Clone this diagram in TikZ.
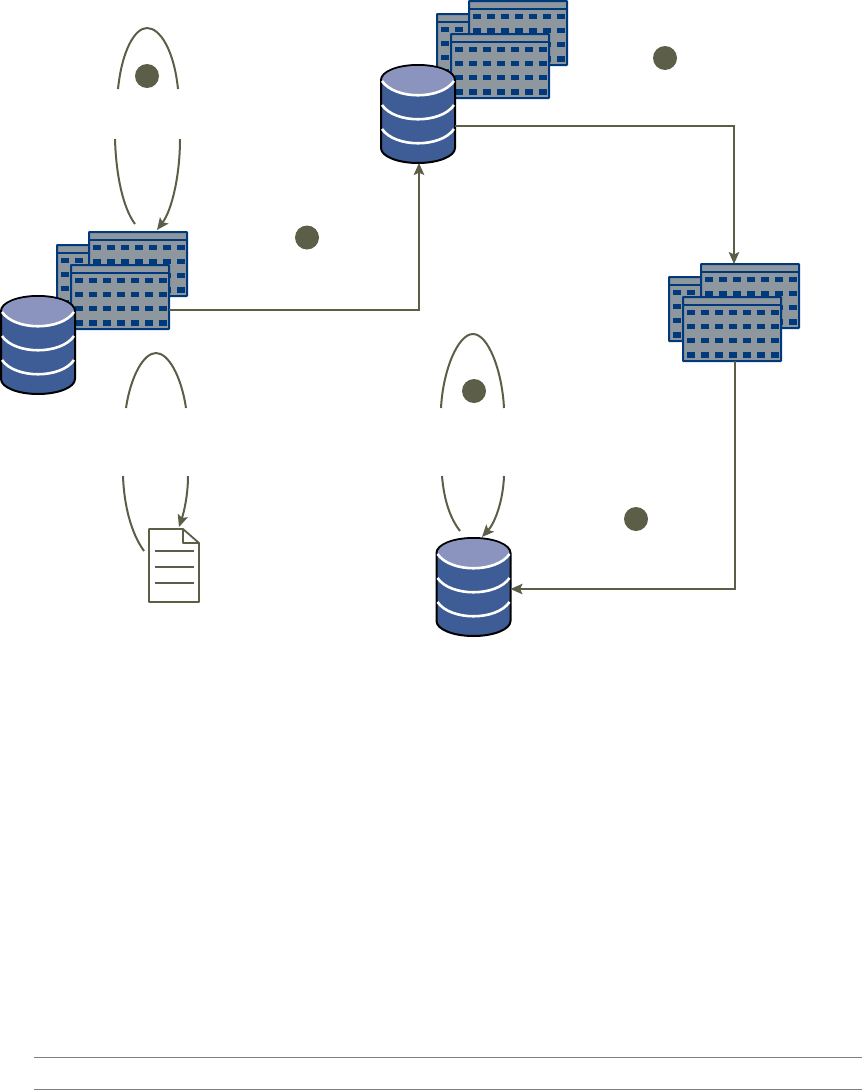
\documentclass[tikz,border=0pt]{standalone}
\usetikzlibrary{arrows.meta}
\definecolor{olivec}{HTML}{5C5E48}
\definecolor{winblue}{HTML}{003A7D}
\definecolor{wingray}{HTML}{8F979E}
\definecolor{dbblue}{HTML}{3E5C96}
\definecolor{dblight}{HTML}{8A94BE}
\tikzset{
  x=1pt,y=-1pt,
  conn/.style={draw=olivec,line width=2pt,-{Stealth[length=12pt,width=10.5pt,inset=2.5pt]}},
  curveline/.style={draw=olivec,line width=2pt},
  badge/.style={circle,fill=olivec,minimum size=24pt,inner sep=0pt},
  region/.style={inner sep=0pt,outer sep=0pt,anchor=north west},
  rulegray/.style={draw=gray,line width=1pt},
  docline/.style={draw=olivec,line width=1.8pt,line join=round}
}
% one window: x, y of the top left corner
\newcommand{\onewin}[2]{%
  \begin{scope}[shift={(#1,#2)}]
    \draw[fill=wingray,draw=winblue,line width=2pt,rounded corners=0.5pt] (0,0) rectangle (98,64);
    \draw[draw=winblue,line width=2pt] (0,7.5) -- (98,7.5);
    \foreach \r in {15.3,29.3,43.3,58}{
      \foreach \c in {3.8,17.8,31.8,45.8,59.8,73.8,87.8}{
        \fill[winblue] (\c,\r-2.8) rectangle (\c+8,\r+2.8);
      }
    }
  \end{scope}}
% stack of three windows, named by #3, top left corner of the group #1,#2
\newcommand{\winstack}[3]{%
  \onewin{#1}{#2+13}
  \onewin{#1+32}{#2}
  \onewin{#1+14}{#2+33}
  \node[region,minimum width=130pt,minimum height=97pt] (#3) at (#1,#2) {};
  \node[region,minimum width=98pt,minimum height=64pt] (#3front) at (#1+14,#2+33) {};}
% database, named by #3
\newcommand{\database}[3]{%
  \begin{scope}[shift={(#1,#2)}]
    \draw[fill=dbblue,draw=black,line width=2pt]
      (0,15) .. controls (0,6.7) and (16.6,0) .. (37,0)
      .. controls (57.4,0) and (74,6.7) .. (74,15)
      -- (74,83) .. controls (74,91.3) and (57.4,98) .. (37,98)
      .. controls (16.6,98) and (0,91.3) .. (0,83) -- cycle;
    \fill[dblight]
      (1,16) .. controls (1,7) and (16.6,1) .. (37,1)
      .. controls (57.4,1) and (73,7) .. (73,16)
      .. controls (60,35) and (14,35) .. (1,16) -- cycle;
    \foreach \e in {16,40,64}{
      \draw[white,line width=2.6pt] (1,\e) .. controls (14,\e+19) and (60,\e+19) .. (73,\e);
    }
  \end{scope}
  \node[region,minimum width=74pt,minimum height=98pt] (#3) at (#1,#2) {};}
\begin{document}
\begin{tikzpicture}
\useasboundingbox (0,0) rectangle (862,1090);

\winstack{57}{232}{stackA}
\database{1}{296}{dbA}
\winstack{437}{1}{stackB}
\database{381}{65}{dbB}
\winstack{669}{264}{stackC}
\database{436.5}{538}{dbC}

% document
\node[region,minimum width=50pt,minimum height=73pt] (docA) at (149,529) {};
\draw[docline] (149,529) -- (183,529) -- (199,543) -- (199,602) -- (149,602) -- cycle;
\draw[docline] (183,529) -- (183,543) -- (199,543);
\foreach \r in {551,567,583}{\draw[docline] (155,\r) -- (194,\r);}

% badges
\node[badge] (b1) at (147,76) {};
\node[badge] (b2) at (665,58) {};
\node[badge] (b3) at (307,237.5) {};
\node[badge] (b4) at (474,391) {};
\node[badge] (b5) at (636,519) {};

% connectors
\draw[conn] ([yshift=-13pt]stackAfront.east) -| ([xshift=1pt]dbB.south);
\draw[conn] ([yshift=-12pt]dbB.east) -| (stackC.north);
\draw[conn] ([xshift=1pt]stackC.south) |- ([yshift=-2pt]dbC.east);

% loop A
\coordinate (a1) at (118,89); \coordinate (a2) at (178,89);
\coordinate (a3) at (115,139); \coordinate (a4) at (135,224);
\coordinate (a5) at (180,139); \coordinate (a6) at (157,230);
\draw[curveline] (a1) .. controls (122,50) and (135,28) .. (147,28) .. controls (160,28) and (174,50) .. (a2);
\draw[curveline] (a3) .. controls (116,175) and (123,208) .. (a4);
\draw[conn] (a5) .. controls (180,175) and (172,210) .. (a6);

% loop B
\coordinate (c1) at (126,408); \coordinate (c2) at (186,408);
\coordinate (c3) at (123,476); \coordinate (c4) at (144,551);
\coordinate (c5) at (188,476); \coordinate (c6) at (179,527);
\draw[curveline] (c1) .. controls (131,375) and (144,353) .. (156,353) .. controls (168,353) and (181,375) .. (c2);
\draw[curveline] (c3) .. controls (124,505) and (131,533) .. (c4);
\draw[conn] (c5) .. controls (188,495) and (184,512) .. (c6);

% loop C
\coordinate (d1) at (441,408); \coordinate (d2) at (504,408);
\coordinate (d3) at (442,476); \coordinate (d4) at (460,531);
\coordinate (d5) at (504,476); \coordinate (d6) at (482,537);
\draw[curveline] (d1) .. controls (443,370) and (458,334) .. (473,334) .. controls (488,334) and (502,370) .. (d2);
\draw[curveline] (d3) .. controls (444,500) and (450,518) .. (d4);
\draw[conn] (d5) .. controls (503,503) and (494,524) .. (d6);

% rules
\coordinate (r1) at (34,1057.3); \coordinate (r2) at (862,1057.3);
\coordinate (r3) at (34,1089.3); \coordinate (r4) at (862,1089.3);
\draw[rulegray] (r1) -- (r2);
\draw[rulegray] (r3) -- (r4);
\end{tikzpicture}
\end{document}
